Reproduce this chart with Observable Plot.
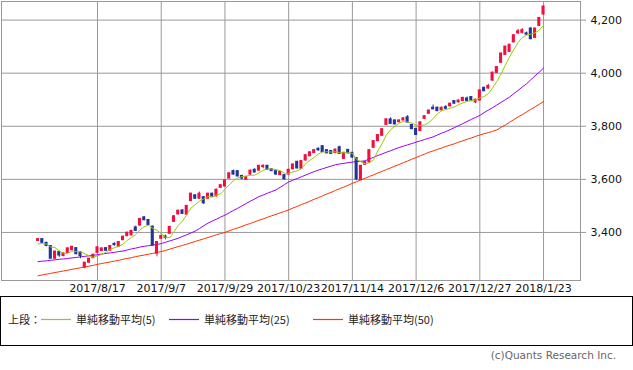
<!DOCTYPE html>
<html>
<head>
<meta charset="utf-8">
<script src="https://cdn.jsdelivr.net/npm/d3@7"></script>
<script src="https://cdn.jsdelivr.net/npm/@observablehq/plot@0.6"></script>
<style>
  html, body { margin: 0; padding: 0; background: #fff; }
  #wrap { position: relative; width: 633px; height: 370px; overflow: hidden; }
  #chart { position: absolute; left: 0; top: 0; }
  #legend {
    position: absolute; left: 0; top: 296px; width: 631px; height: 48px;
    border: 1px solid #000; box-sizing: content-box;
    font-family: "Noto Sans CJK JP", "DejaVu Sans", sans-serif; font-size: 11px; color: #222;
  }
  #legend .item { position: absolute; top: 14px; line-height: 16px; white-space: nowrap; }
  #legend svg { position: absolute; top: 21px; }
  #caption {
    position: absolute; top: 349px; right: 17px;
    font-family: "DejaVu Sans", sans-serif; font-size: 10.5px; color: #666;
  }
</style>
</head>
<body>
<div id="wrap">
  <div id="chart"></div>
  <div id="legend"></div>
  <div id="caption">(c)Quants Research Inc.</div>
</div>
<script>
const dates = [
  "2017/7/27","2017/7/28","2017/7/31","2017/8/1","2017/8/2","2017/8/3","2017/8/4","2017/8/7","2017/8/8","2017/8/9",
  "2017/8/10","2017/8/14","2017/8/15","2017/8/16","2017/8/17","2017/8/18","2017/8/21","2017/8/22","2017/8/23","2017/8/24",
  "2017/8/25","2017/8/28","2017/8/29","2017/8/30","2017/8/31","2017/9/1","2017/9/4","2017/9/5","2017/9/6","2017/9/7",
  "2017/9/8","2017/9/11","2017/9/12","2017/9/13","2017/9/14","2017/9/15","2017/9/19","2017/9/20","2017/9/21","2017/9/22",
  "2017/9/25","2017/9/26","2017/9/27","2017/9/28","2017/9/29","2017/10/2","2017/10/3","2017/10/4","2017/10/5","2017/10/6",
  "2017/10/10","2017/10/11","2017/10/12","2017/10/13","2017/10/16","2017/10/17","2017/10/18","2017/10/19","2017/10/20","2017/10/23",
  "2017/10/24","2017/10/25","2017/10/26","2017/10/27","2017/10/30","2017/10/31","2017/11/1","2017/11/2","2017/11/6","2017/11/7",
  "2017/11/8","2017/11/9","2017/11/10","2017/11/13","2017/11/14","2017/11/15","2017/11/16","2017/11/17","2017/11/20","2017/11/21",
  "2017/11/22","2017/11/24","2017/11/27","2017/11/28","2017/11/29","2017/11/30","2017/12/1","2017/12/4","2017/12/5","2017/12/6",
  "2017/12/7","2017/12/8","2017/12/11","2017/12/12","2017/12/13","2017/12/14","2017/12/15","2017/12/18","2017/12/19","2017/12/20",
  "2017/12/21","2017/12/22","2017/12/25","2017/12/26","2017/12/27","2017/12/28","2017/12/29","2018/1/4","2018/1/5","2018/1/9",
  "2018/1/10","2018/1/11","2018/1/12","2018/1/15","2018/1/16","2018/1/17","2018/1/18","2018/1/19","2018/1/22","2018/1/23"
];

const open = [
  3368,3375,3361,3349,3301,3326,3311,3323,3333,3341, 3325,3268,3286,3303,3323,3330,3341,3331,3357,3346,
  3371,3386,3389,3419,3426,3457,3447,3422,3320,3376, 3385,3395,3440,3468,3483,3467,3518,3540,3527,3533,
  3527,3546,3536,3568,3573,3603,3631,3631,3613,3598, 3618,3636,3633,3646,3651,3638,3631,3616,3616,3618,
  3638,3666,3640,3671,3687,3699,3715,3725,3710,3707, 3699,3721,3677,3711,3700,3680,3597,3655,3664,3719,
  3744,3764,3805,3826,3822,3815,3822,3834,3805,3790, 3782,3828,3847,3870,3870,3860,3872,3875,3895,3890,
  3895,3905,3910,3890,3897,3945,3942,3972,4001,4039, 4069,4080,4116,4150,4152,4150,4168,4133,4178,4221
];
const high = [
  3377,3377,3363,3350,3330,3330,3323,3342,3348,3343, 3327,3288,3303,3318,3346,3342,3343,3351,3361,3366,
  3386,3401,3408,3424,3453,3459,3449,3424,3366,3389, 3390,3423,3463,3484,3486,3502,3548,3542,3552,3535,
  3548,3548,3563,3580,3598,3625,3635,3633,3615,3610, 3635,3640,3653,3655,3653,3640,3633,3630,3618,3638,
  3658,3668,3671,3693,3704,3712,3719,3727,3712,3709, 3714,3725,3702,3713,3702,3682,3653,3667,3712,3746,
  3769,3791,3828,3832,3824,3824,3832,3840,3807,3792, 3817,3840,3861,3880,3872,3872,3878,3887,3897,3899,
  3909,3910,3912,3902,3937,3947,3958,4004,4025,4076, 4102,4109,4145,4165,4168,4155,4172,4170,4210,4253
];
const low = [
  3366,3359,3346,3299,3299,3306,3309,3321,3331,3316, 3301,3263,3284,3301,3321,3328,3329,3329,3349,3344,
  3369,3384,3387,3404,3424,3444,3426,3348,3308,3374, 3372,3393,3438,3466,3468,3465,3516,3525,3525,3505,
  3525,3533,3534,3566,3571,3601,3616,3609,3598,3596, 3616,3624,3631,3640,3634,3629,3616,3614,3598,3616,
  3636,3639,3638,3669,3685,3697,3707,3701,3696,3694, 3697,3694,3675,3696,3680,3595,3595,3653,3662,3717,
  3742,3762,3803,3807,3805,3813,3820,3812,3787,3765, 3780,3826,3845,3862,3855,3858,3862,3873,3883,3888,
  3893,3893,3895,3885,3895,3930,3940,3970,3999,4037, 4067,4078,4114,4146,4148,4143,4126,4131,4176,4219
];
const close = [
  3375,3361,3349,3301,3328,3313,3321,3340,3346,3318, 3311,3286,3301,3316,3344,3340,3331,3349,3352,3364,
  3384,3399,3406,3406,3451,3446,3428,3350,3364,3387, 3380,3421,3461,3482,3470,3500,3546,3527,3546,3510,
  3546,3535,3561,3578,3596,3623,3618,3611,3603,3608, 3633,3626,3651,3651,3636,3631,3618,3628,3600,3636,
  3656,3641,3669,3691,3702,3710,3709,3703,3698,3696, 3712,3696,3700,3698,3682,3600,3651,3665,3710,3744,
  3767,3789,3826,3809,3807,3822,3830,3814,3789,3767, 3815,3838,3859,3864,3857,3870,3866,3885,3885,3897,
  3907,3895,3897,3900,3935,3932,3952,4002,4023,4074, 4100,4107,4143,4158,4162,4145,4128,4168,4208,4251
];
const ma5 = [
  3357,3358,3356,3345,3343,3330,3322,3321,3330,3328, 3327,3320,3312,3306,3312,3317,3326,3336,3343,3347,
  3356,3370,3381,3392,3409,3422,3427,3416,3408,3395, 3382,3380,3403,3426,3443,3467,3492,3505,3518,3526,
  3535,3533,3540,3546,3563,3579,3595,3605,3610,3613, 3615,3616,3624,3634,3639,3639,3637,3633,3623,3623,
  3628,3632,3640,3659,3672,3683,3696,3703,3704,3703, 3704,3701,3700,3700,3698,3675,3666,3659,3662,3674,
  3707,3735,3767,3787,3800,3811,3819,3816,3812,3804, 3803,3805,3814,3829,3847,3858,3863,3868,3873,3881,
  3888,3894,3896,3899,3907,3912,3923,3944,3969,3997, 4030,4061,4089,4116,4134,4143,4147,4152,4162,4180
];
const ma25 = [
  3290,3292,3293,3295,3297,3299,3300,3302,3304,3306, 3308,3310,3312,3314,3316,3319,3321,3323,3325,3328,
  3330,3334,3338,3341,3345,3348,3350,3353,3355,3358, 3363,3368,3373,3378,3385,3391,3398,3405,3415,3425,
  3435,3443,3450,3458,3465,3474,3483,3491,3500,3509, 3518,3526,3535,3541,3548,3554,3560,3570,3580,3590,
  3597,3603,3610,3616,3623,3629,3635,3640,3645,3650, 3655,3658,3660,3663,3665,3667,3668,3670,3677,3683,
  3690,3696,3702,3708,3714,3720,3725,3730,3735,3740, 3745,3750,3755,3760,3767,3774,3780,3787,3795,3802,
  3810,3818,3826,3833,3841,3851,3861,3870,3880,3890, 3900,3910,3923,3935,3948,3960,3975,3990,4004,4019
];
const ma50 = [
  3237,3240,3243,3246,3249,3252,3255,3258,3261,3264, 3267,3270,3273,3276,3280,3283,3286,3289,3292,3295,
  3299,3302,3305,3309,3312,3315,3318,3321,3325,3328, 3332,3337,3342,3347,3351,3356,3361,3366,3371,3376,
  3381,3386,3391,3396,3400,3406,3412,3417,3423,3429, 3434,3440,3446,3451,3457,3463,3468,3474,3479,3485,
  3492,3498,3505,3511,3518,3525,3531,3538,3545,3551, 3558,3565,3571,3578,3585,3591,3598,3604,3611,3617,
  3624,3630,3637,3643,3650,3656,3663,3669,3676,3682, 3689,3695,3702,3707,3713,3718,3724,3729,3734,3740,
  3745,3751,3756,3762,3767,3772,3776,3781,3786,3796, 3805,3815,3825,3835,3844,3854,3864,3873,3883,3893
];
const tickLabels = ["2017/8/17","2017/9/7","2017/9/29","2017/10/23","2017/11/14","2017/12/6","2017/12/27","2018/1/23"];
const yTicks = [3400, 3600, 3800, 4000, 4200];

const seriesNames = ["単純移動平均(5)", "単純移動平均(25)", "単純移動平均(50)"];
const seriesColors = ["#99cc00", "#9900ff", "#ff3300"];
const upColor = "#f01040";
const downColor = "#223399";

const idx = d3.range(dates.length);
const tickIdx = tickLabels.map(l => dates.indexOf(l));
const colorOf = i => close[i] >= open[i] ? upColor : downColor;

const chart = Plot.plot({
  width: 633,
  height: 293,
  marginLeft: 1,
  marginRight: 53,
  marginTop: 1,
  marginBottom: 13,
  style: { fontFamily: "DejaVu Sans, sans-serif", fontSize: "11px", color: "#222", background: "#fff", overflow: "visible" },
  x: { type: "linear", domain: [-8.6, 127.7] },
  y: { domain: [3219, 4270] },
  marks: [
    Plot.ruleX(tickIdx, { x: d => d, stroke: "#999", strokeWidth: 1 }),
    Plot.ruleY(yTicks, { y: d => d, stroke: "#999", strokeWidth: 1 }),
    Plot.frame({ stroke: "#999" }),
    Plot.axisX(tickIdx, { anchor: "bottom", tickSize: 0, tickPadding: 4, tickFormat: d => dates[d], fill: "#111", fontSize: 11 }),
    Plot.axisY(yTicks, { anchor: "right", tickSize: 5, tickPadding: 5, stroke: "#999", tickFormat: d3.format(","), fill: "#111", fontSize: 11 }),
    Plot.lineY(idx, { x: i => i, y: i => ma50[i], stroke: seriesColors[2], strokeWidth: 1 }),
    Plot.lineY(idx, { x: i => i, y: i => ma25[i], stroke: seriesColors[1], strokeWidth: 1 }),
    Plot.ruleX(idx, { x: i => i, y1: i => low[i], y2: i => high[i], stroke: colorOf, strokeWidth: 1 }),
    Plot.rect(idx, { x1: i => i - 0.36, x2: i => i + 0.36, y1: i => open[i], y2: i => close[i], fill: colorOf, insetTop: -0.5, insetBottom: -0.5 }),
    Plot.lineY(idx, { x: i => i, y: i => ma5[i], stroke: seriesColors[0], strokeWidth: 1 })
  ]
});
document.getElementById("chart").appendChild(chart);

// legend
const legend = document.getElementById("legend");
const lab = document.createElement("span");
lab.className = "item"; lab.style.left = "7px"; lab.textContent = "上段：";
legend.appendChild(lab);
const swX = [40, 168, 312];
const txX = [75, 203, 347];
const NS = "http://www.w3.org/2000/svg";
seriesNames.forEach((n, k) => {
  const s = document.createElementNS(NS, "svg");
  s.setAttribute("width", "30");
  s.setAttribute("height", "3");
  s.style.left = swX[k] + "px";
  const ln = document.createElementNS(NS, "line");
  ln.setAttribute("x1", "0"); ln.setAttribute("x2", "30");
  ln.setAttribute("y1", "1.5"); ln.setAttribute("y2", "1.5");
  ln.setAttribute("stroke", seriesColors[k]);
  ln.setAttribute("stroke-width", "1.2");
  s.appendChild(ln);
  legend.appendChild(s);
  const t = document.createElement("span");
  t.className = "item"; t.style.left = txX[k] + "px"; t.textContent = n;
  legend.appendChild(t);
});
</script>
</body>
</html>
